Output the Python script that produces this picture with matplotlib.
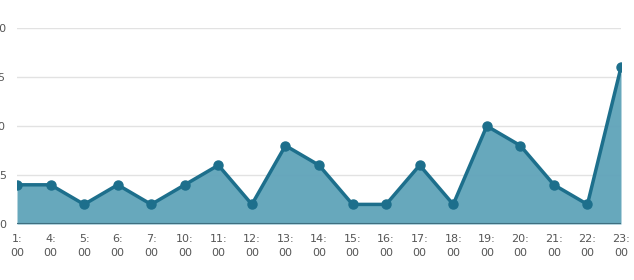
import matplotlib
matplotlib.use('Agg')
import matplotlib.pyplot as plt
import numpy as np

hours = ['1:', '4:', '5:', '6:', '7:', '10:', '11:', '12:', '13:', '14:',
         '15:', '16:', '17:', '18:', '19:', '20:', '21:', '22:', '23:']
counts = [4, 4, 2, 4, 2, 4, 6, 2, 8, 6, 2, 2, 6, 2, 10, 8, 4, 2, 16]
y_ticks = [0, 5, 10, 15, 20]

line_color = '#1d6f8c'
fill_color = '#5fa3b9'

fig = plt.figure(figsize=(6.34, 2.8), dpi=100)
ax = fig.add_axes([17 / 634, 0.2, 604 / 634, 0.7])

x = np.arange(len(hours))
ax.fill_between(x, counts, 0, color=fill_color, alpha=0.95, linewidth=0, zorder=2)
ax.plot(x, counts, color=line_color, linewidth=2.5, marker='o', markersize=6.5, zorder=3)
ax.axhline(0, color='#3f6f80', linewidth=1.5, zorder=3)

ax.set_xlim(0, len(hours) - 1)
ax.set_ylim(0, 20)
ax.set_yticks(y_ticks)
ax.set_yticklabels([str(v) for v in y_ticks])
ax.set_xticks(x)
ax.set_xticklabels([h + '\n00' for h in hours], linespacing=1.5)
ax.tick_params(axis='both', length=0, labelsize=8, colors='#555555')
ax.tick_params(axis='y', pad=8)
ax.tick_params(axis='x', pad=7)
ax.grid(axis='y', color='#e2e2e2', linewidth=1, zorder=0)
for s in ax.spines.values():
    s.set_visible(False)
ax.set_clip_on(False)

fig.savefig('out.png', dpi=100)
